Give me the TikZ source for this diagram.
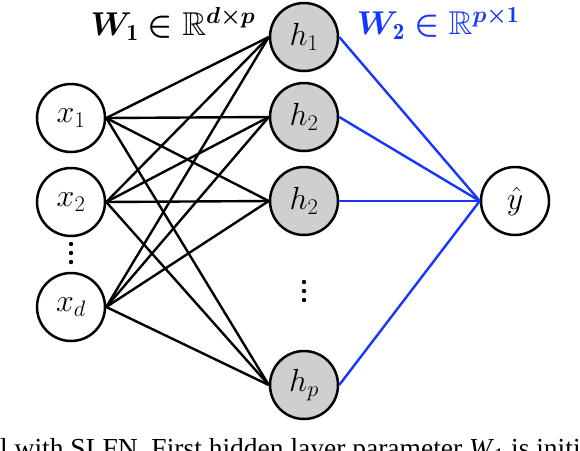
\RequirePackage{fix-cm}
\documentclass[tikz,border=0pt]{standalone}
\usepackage{amsmath,amssymb,bm}
\usepackage{fontspec}
\newfontfamily\capfont{Liberation Serif}
\definecolor{wblue}{RGB}{20,55,255}
\definecolor{hgray}{RGB}{208,206,206}
\begin{document}
\begin{tikzpicture}[x=1pt,y=-1pt,
  neuron/.style={circle,draw=black,line width=2.5pt,minimum size=68pt,inner sep=0pt,font=\fontsize{32}{36}\selectfont},
  innode/.style={neuron,fill=white},
  hidnode/.style={neuron,fill=hgray},
  wone/.style={line width=2.4pt,black},
  wtwo/.style={line width=2.4pt,wblue},
  wlabel/.style={inner sep=0pt,font=\fontsize{33}{37}\selectfont},
  dotmark/.style={fill=black}
]
\useasboundingbox (0,0) rectangle (580,450);
\clip (0,0) rectangle (580,450);
\node[innode] (x1) at (71,118) {$x_1$};
\node[innode] (x2) at (71,202) {$x_2$};
\node[innode] (xd) at (71,307) {$x_d$};
\node[hidnode] (h1) at (304,37) {$h_1$};
\node[hidnode] (h2) at (304,117) {$h_2$};
\node[hidnode] (h3) at (304,201) {$h_2$};
\node[hidnode] (hp) at (304,385) {$h_p$};
\node[innode] (y) at (515,201) {$\hat{y}$};
\foreach \a in {x1,x2,xd}
  \foreach \b in {h1,h2,h3,hp}
    \draw[wone] (\a.east) -- (\b.west);
\foreach \b in {h1,h2,h3,hp}
  \draw[wtwo] (\b.east) -- (y.west);
\foreach \d in {-9,0,9} {
  \fill[dotmark] (71,253+\d) circle (2.2);
  \fill[dotmark] (304,291+\d) circle (2.2);
}
\node[wlabel] (w1) at (173,24) {$\bm{W}_{\mathbf{1}}\bm{\in}\mathbb{R}^{\bm{d\times p}}$};
\node[wlabel,text=wblue] (w2) at (438,23) {$\bm{W}_{\mathbf{2}}\bm{\in}\mathbb{R}^{\bm{p\times}\mathbf{1}}$};
\node[anchor=base west,inner sep=0pt,font=\capfont\fontsize{27.5}{31}\selectfont] (cap) at (0,457) {l with SLFN. First hidden layer parameter \textit{W}\textsubscript{1} is initi};
\end{tikzpicture}
\end{document}
